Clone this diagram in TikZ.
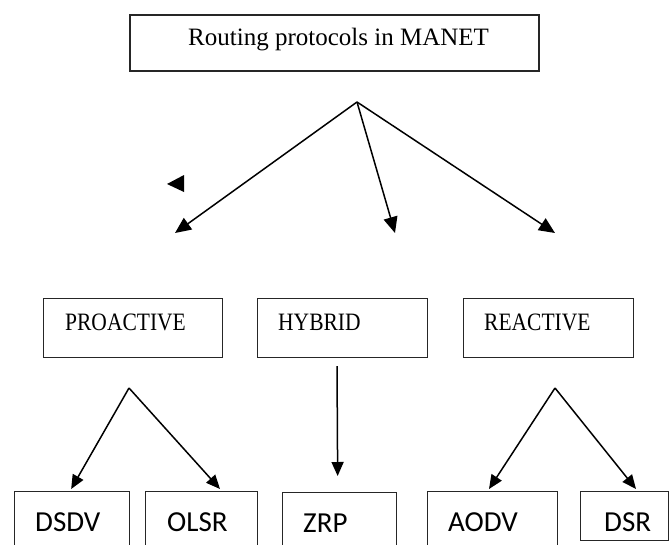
\documentclass[tikz,border=0pt]{standalone}
\usepackage{fontspec}
\setmainfont{Liberation Serif}
\newfontfamily\calibrifont{Carlito}
\usetikzlibrary{positioning, arrows.meta}

\newcommand{\narrow}[1]{\scalebox{0.86}[1]{#1}}

\tikzset{
  box/.style={draw=black!85, line width=1.3pt, anchor=north west, inner sep=0pt},
  toplabel/.style={anchor=base west, inner sep=0pt, font=\fontsize{25}{30}\selectfont},
  midlabel/.style={anchor=base west, inner sep=0pt, font=\fontsize{25}{30}\selectfont},
  leaflabel/.style={anchor=base west, inner sep=0pt, font=\calibrifont\fontsize{29}{34}\selectfont},
  link/.style={line width=1.5pt, -{Triangle[length=14pt, width=12pt]}},
}

\begin{document}
\begin{tikzpicture}[x=1pt, y=-1pt]

\useasboundingbox (0,0) rectangle (671,544);
\clip (0,0) rectangle (671,544);

% root
\node[box, line width=1.5pt, minimum width=409pt, minimum height=56pt] (root) at (129,14) {};
\node[toplabel] (rootText) at (188,45) {Routing protocols in MANET};

% classes
\node[box, minimum width=179pt, minimum height=59pt] (pro) at (43,298) {};
\node[box, minimum width=170pt, minimum height=59pt] (hyb) at (257,298) {};
\node[box, minimum width=170pt, minimum height=59pt] (rea) at (463,298) {};

\node[midlabel] (proText) at (65,330) {\narrow{PROACTIVE}};
\node[midlabel] (hybText) at (278,330) {\narrow{HYBRID}};
\node[midlabel] (reaText) at (484,330) {\narrow{REACTIVE}};

% protocols
\node[box, minimum width=115pt, minimum height=80pt] (dsdv) at (14,491) {};
\node[box, minimum width=112pt, minimum height=80pt] (olsr) at (145,491) {};
\node[box, minimum width=114pt, minimum height=80pt] (zrp) at (282,492) {};
\node[box, minimum width=130pt, minimum height=80pt] (aodv) at (427,491) {};
\node[box, minimum width=88pt, minimum height=49pt] (dsr) at (580,491) {};

\node[leaflabel] (dsdvText) at (35,531) {DSDV};
\node[leaflabel] (olsrText) at (167,531) {OLSR};
\node[leaflabel] (zrpText) at (303,532) {ZRP};
\node[leaflabel] (aodvText) at (448,531) {AODV};
\node[leaflabel] (dsrText) at (604,531) {DSR};

% fork points
\coordinate (rootFork) at (357,102);
\coordinate (proEnd) at (175,233);
\coordinate (hybEnd) at (395,233);
\coordinate (reaEnd) at (555,233);
\coordinate (proFork) at (129,388);
\coordinate (hybFork) at (337,366);
\coordinate (reaFork) at (555,388);

\draw[link, -{Triangle[length=16pt, width=14pt]}] (rootFork) -- (proEnd);
\draw[link, -{Triangle[length=16pt, width=14pt]}] (rootFork) -- (hybEnd);
\draw[link, -{Triangle[length=16pt, width=14pt]}] (rootFork) -- (reaEnd);

\draw[link] (proFork) -- ([xshift=-1pt,yshift=2pt]dsdv.north);
\draw[link] (proFork) -- ([xshift=75pt,yshift=2pt]olsr.north west);
\draw[link] (hybFork) -- ([xshift=-2pt,yshift=16pt]zrp.north);
\draw[link] (reaFork) -- ([xshift=62pt,yshift=2pt]aodv.north west);
\draw[link] (reaFork) -- ([xshift=56pt,yshift=2pt]dsr.north west);

% stray arrow head
\fill (167,184) -- (184,175) -- (184,192) -- cycle;

\end{tikzpicture}
\end{document}
